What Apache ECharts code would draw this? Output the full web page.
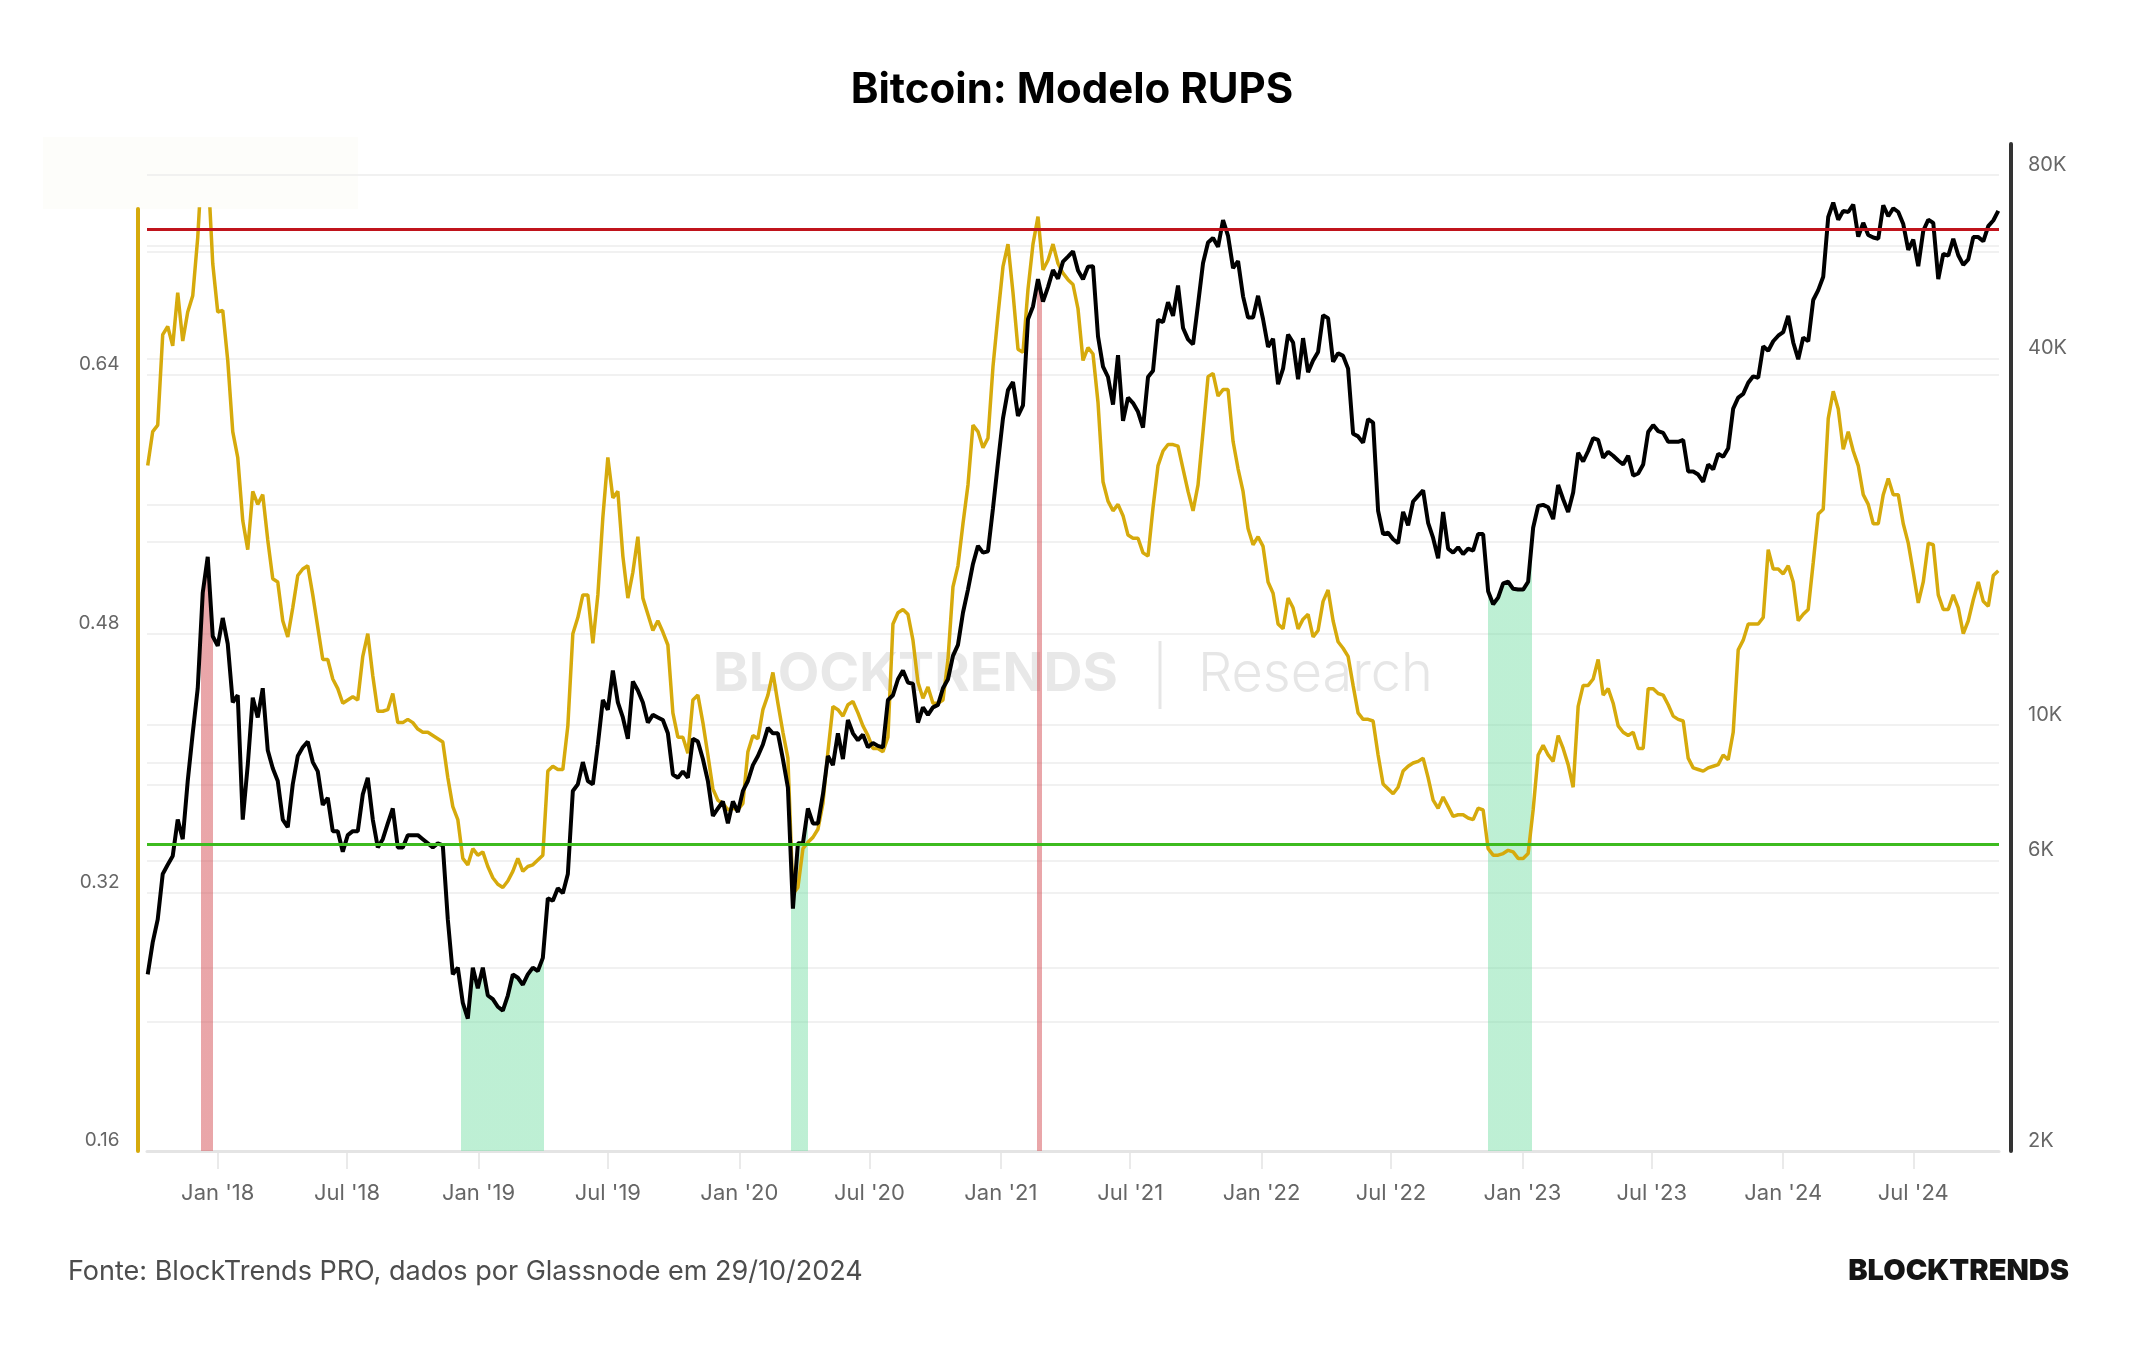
<!DOCTYPE html>
<html>
<head>
<meta charset="utf-8">
<title>Bitcoin: Modelo RUPS</title>
<script src="https://cdn.jsdelivr.net/npm/echarts@6/dist/echarts.min.js"></script>
<style>
html, body { margin: 0; padding: 0; background: #fff; }
#chart { width: 2144px; height: 1350px; }
</style>
</head>
<body>
<div id="chart"></div>
<script>
// weekly samples (mondays), first one on 2017-09-25
const firstWeek = '2017-09-25'

const rups = [
    0.584, 0.605, 0.609, 0.665, 0.670, 0.658, 0.691, 0.661, 0.679, 0.689,
    0.725, 0.780, 0.770, 0.709, 0.679, 0.680, 0.649, 0.605, 0.589, 0.550,
    0.532, 0.568, 0.560, 0.566, 0.538, 0.514, 0.512, 0.488, 0.478, 0.496,
    0.516, 0.520, 0.522, 0.504, 0.484, 0.464, 0.464, 0.452, 0.446, 0.437,
    0.439, 0.441, 0.439, 0.466, 0.480, 0.454, 0.432, 0.432, 0.433, 0.443,
    0.425, 0.425, 0.427, 0.425, 0.421, 0.419, 0.419, 0.417, 0.415, 0.413,
    0.391, 0.373, 0.365, 0.341, 0.337, 0.347, 0.343, 0.345, 0.336, 0.329,
    0.325, 0.323, 0.327, 0.333, 0.341, 0.333, 0.336, 0.337, 0.340, 0.343,
    0.395, 0.398, 0.396, 0.396, 0.423, 0.480, 0.490, 0.504, 0.504, 0.474,
    0.504, 0.552, 0.589, 0.564, 0.568, 0.528, 0.502, 0.518, 0.540, 0.502,
    0.492, 0.482, 0.488, 0.481, 0.473, 0.431, 0.416, 0.416, 0.406, 0.439,
    0.442, 0.425, 0.405, 0.384, 0.377, 0.375, 0.371, 0.372, 0.371, 0.375,
    0.407, 0.417, 0.415, 0.433, 0.442, 0.456, 0.437, 0.419, 0.403, 0.319,
    0.323, 0.347, 0.351, 0.354, 0.359, 0.375, 0.407, 0.435, 0.433, 0.429,
    0.436, 0.438, 0.431, 0.423, 0.417, 0.409, 0.409, 0.407, 0.416, 0.486,
    0.493, 0.495, 0.492, 0.476, 0.450, 0.440, 0.447, 0.437, 0.437, 0.439,
    0.464, 0.509, 0.522, 0.548, 0.572, 0.609, 0.605, 0.595, 0.601, 0.645,
    0.677, 0.707, 0.721, 0.691, 0.656, 0.654, 0.693, 0.721, 0.738, 0.705,
    0.711, 0.721, 0.709, 0.703, 0.699, 0.696, 0.681, 0.649, 0.657, 0.653,
    0.623, 0.574, 0.562, 0.556, 0.560, 0.553, 0.541, 0.539, 0.539, 0.530,
    0.528, 0.558, 0.584, 0.593, 0.597, 0.597, 0.596, 0.582, 0.568, 0.556,
    0.572, 0.605, 0.639, 0.641, 0.627, 0.631, 0.631, 0.599, 0.582, 0.568,
    0.545, 0.535, 0.540, 0.534, 0.512, 0.505, 0.486, 0.483, 0.502, 0.496,
    0.483, 0.489, 0.492, 0.478, 0.482, 0.500, 0.507, 0.488, 0.475, 0.471,
    0.466, 0.448, 0.431, 0.427, 0.427, 0.426, 0.405, 0.387, 0.384, 0.381,
    0.385, 0.395, 0.398, 0.400, 0.401, 0.403, 0.391, 0.377, 0.372, 0.379,
    0.373, 0.367, 0.368, 0.368, 0.366, 0.365, 0.372, 0.371, 0.347, 0.343,
    0.343, 0.344, 0.346, 0.345, 0.341, 0.341, 0.344, 0.371, 0.405, 0.411,
    0.405, 0.401, 0.417, 0.409, 0.399, 0.385, 0.435, 0.448, 0.448, 0.452,
    0.464, 0.442, 0.446, 0.437, 0.423, 0.419, 0.417, 0.419, 0.409, 0.409,
    0.446, 0.446, 0.443, 0.442, 0.436, 0.429, 0.427, 0.426, 0.403, 0.397,
    0.396, 0.395, 0.397, 0.398, 0.399, 0.405, 0.402, 0.419, 0.470, 0.476,
    0.486, 0.486, 0.486, 0.490, 0.532, 0.520, 0.520, 0.517, 0.522, 0.512,
    0.488, 0.492, 0.495, 0.524, 0.554, 0.557, 0.613, 0.630, 0.619, 0.594,
    0.605, 0.593, 0.584, 0.566, 0.560, 0.548, 0.548, 0.566, 0.576, 0.566,
    0.566, 0.548, 0.536, 0.518, 0.499, 0.512, 0.536, 0.535, 0.504, 0.495,
    0.495, 0.504, 0.496, 0.480, 0.488, 0.501, 0.512, 0.500, 0.497, 0.516,
    0.519
]

const price = [
    3900, 4400, 4800, 5700, 5900, 6100, 7000, 6500, 8100, 9700,
    11500, 16500, 18900, 14000, 13500, 15000, 13600, 10900, 11200, 7000,
    8600, 11100, 10300, 11500, 9100, 8500, 8100, 7000, 6800, 8000,
    8900, 9200, 9400, 8700, 8400, 7400, 7600, 6700, 6700, 6200,
    6600, 6700, 6700, 7700, 8200, 7000, 6300, 6500, 6900, 7300,
    6300, 6300, 6600, 6600, 6600, 6500, 6400, 6300, 6400, 6350,
    4800, 3900, 4000, 3500, 3300, 4000, 3700, 4000, 3600, 3550,
    3450, 3400, 3600, 3900, 3850, 3750, 3900, 4000, 3950, 4150,
    5200, 5150, 5400, 5300, 5700, 7800, 8000, 8700, 8100, 8000,
    9300, 11000, 10600, 12300, 10900, 10300, 9500, 11800, 11400, 10900,
    10100, 10400, 10300, 10200, 9700, 8300, 8200, 8400, 8200, 9500,
    9400, 8800, 8100, 7100, 7300, 7500, 6900, 7500, 7200, 7800,
    8100, 8600, 8900, 9300, 9900, 9700, 9700, 8800, 7900, 5000,
    6400, 6400, 7300, 6900, 6900, 7700, 8900, 8600, 9700, 8800,
    10200, 9700, 9450, 9650, 9200, 9350, 9250, 9200, 11000, 11200,
    11900, 12300, 11750, 11700, 10100, 10700, 10400, 10700, 10800, 11500,
    11900, 13000, 13550, 15300, 16700, 18400, 19700, 19200, 19300, 22700,
    27000, 31900, 35500, 36600, 32200, 33500, 46400, 48700, 54000, 49600,
    52400, 55900, 54100, 57700, 58800, 60000, 55800, 54000, 56600, 56700,
    43500, 38800, 37300, 33600, 40500, 31600, 34500, 33800, 32700, 30800,
    37300, 38200, 46300, 45900, 49500, 47000, 52700, 44900, 43000, 42200,
    49100, 57400, 62000, 63100, 61000, 67500, 63600, 56300, 57800, 50600,
    46700, 46700, 50700, 46400, 41800, 43100, 36300, 38500, 43800, 42500,
    37000, 43200, 38000, 39700, 41000, 47100, 46600, 39500, 40800, 40400,
    38500, 30100, 29800, 29100, 31800, 31400, 22500, 20600, 20700, 20200,
    19900, 22400, 21300, 23300, 23800, 24300, 21500, 20300, 18800, 22400,
    19500, 19200, 19600, 19100, 19500, 19350, 20600, 20600, 16600, 15800,
    16200, 17100, 17200, 16750, 16700, 16700, 17200, 21100, 22900, 23000,
    22800, 21800, 24800, 23500, 22400, 24100, 28000, 27100, 28200, 29600,
    29400, 27500, 28100, 27700, 27200, 26800, 27700, 25700, 25900, 26800,
    30300, 31100, 30400, 30200, 29200, 29200, 29200, 29400, 26100, 26100,
    25800, 25100, 26800, 26300, 27900, 27600, 28500, 33100, 34500, 35000,
    36500, 37400, 37200, 41900, 41200, 42700, 43600, 44200, 47000, 42500,
    39900, 43300, 42700, 49900, 51800, 54500, 68300, 72100, 67600, 69900,
    69600, 71600, 63400, 66800, 63800, 63200, 62900, 71400, 68500, 70600,
    69600, 66500, 60300, 62700, 56700, 64800, 67600, 66800, 54000, 59400,
    59000, 62900, 59100, 57000, 58200, 63300, 63300, 62300, 66000, 67400,
    69900
]

const redLevel = 0.731
const greenLevel = 0.351
const redZones = [['2017-12-08', '2017-12-25'], ['2021-02-21', '2021-02-27']]
const greenZones = [['2018-12-08', '2019-04-03'], ['2020-03-14', '2020-04-06'], ['2022-11-14', '2023-01-14']]

const leftLabels = [0.16, 0.32, 0.48, 0.64]
const leftGridLines = [0.16, 0.24, 0.32, 0.40, 0.48, 0.56, 0.64, 0.72]
const rightLabels = [2000, 6000, 10000, 40000, 80000]
const rightGridLines = [2000, 4000, 6000, 8000, 10000, 20000, 40000, 60000, 80000]
const xLabelDates = ['2018-01-01', '2018-07-01', '2019-01-01', '2019-07-01', '2020-01-01', '2020-07-01',
    '2021-01-01', '2021-07-01', '2022-01-01', '2022-07-01', '2023-01-01', '2023-07-01', '2024-01-01', '2024-07-01']

const DAY = 86400000
const t0 = Date.parse(firstWeek)
const dates = rups.map(function(v, i) { return t0 + i * 7 * DAY })
const xMin = Date.parse('2017-09-24')
const xMax = Date.parse('2024-10-29')
const xTicks = xLabelDates.map(function(s) { return Date.parse(s) })
const font = 'Inter'

let myChart = echarts.init(document.getElementById('chart'))

let zonePieces = []
redZones.forEach(function(z) {
    zonePieces.push({ gte: Date.parse(z[0]), lte: Date.parse(z[1]), color: 'rgba(212, 78, 84, 0.5)' })
})
greenZones.forEach(function(z) {
    zonePieces.push({ gte: Date.parse(z[0]), lte: Date.parse(z[1]), color: 'rgba(110, 220, 160, 0.45)' })
})

let option = {
    animation: false,
    backgroundColor: '#fff',
    title: {
        text: 'Bitcoin: Modelo RUPS',
        left: 'center',
        top: 64,
        textStyle: { fontFamily: font, fontWeight: 'bold', fontSize: 42, color: '#000' }
    },
    graphic: [
        { type: 'rect', z: 0, shape: { x: 43, y: 137, width: 315, height: 72 }, style: { fill: '#fdfdfa' } },
        { type: 'text', z: 0, x: 713, y: 675, style: { text: 'BLOCKTRENDS', font: 'bold 54px Inter', fill: '#e8e8e8', verticalAlign: 'middle' } },
        { type: 'line', z: 0, shape: { x1: 1160, y1: 641, x2: 1160, y2: 709 }, style: { stroke: '#e6e6e6', lineWidth: 3 } },
        { type: 'text', z: 0, x: 1198, y: 675, style: { text: 'Research', font: '300 54px Inter', fill: '#e6e6e6', verticalAlign: 'middle' } },
        { type: 'text', x: 68, y: 1272, style: { text: 'Fonte: BlockTrends PRO, dados por Glassnode em 29/10/2024', font: '27px Inter', fill: '#4d4d4d', verticalAlign: 'middle' } },
        { type: 'text', x: 2069, y: 1271, style: { text: 'BLOCKTRENDS', font: '900 29px Inter', fill: '#151515', align: 'right', verticalAlign: 'middle' } }
    ],
    grid: [
        { left: 147, right: 145, top: 209, bottom: 199 },
        { left: 147, right: 145, top: 144, bottom: 199 }
    ],
    visualMap: {
        type: 'piecewise',
        show: false,
        dimension: 0,
        seriesIndex: 0,
        pieces: zonePieces,
        outOfRange: { color: 'rgba(255, 255, 255, 0)' }
    },
    xAxis: [
        {
            type: 'value', gridIndex: 0, min: xMin, max: xMax,
            axisLine: { lineStyle: { color: '#e4e4e4', width: 3 } },
            axisTick: { show: true, length: 18, customValues: xTicks, lineStyle: { color: '#e4e4e4', width: 1.5 } },
            axisLabel: {
                customValues: xTicks,
                margin: 31, fontSize: 22, color: '#666', fontFamily: font,
                formatter: function(v) {
                    let d = new Date(v)
                    return (d.getUTCMonth() == 0 ? 'Jan' : 'Jul') + " '" + String(d.getUTCFullYear()).slice(2)
                }
            },
            splitLine: { show: false }
        },
        { type: 'value', gridIndex: 1, min: xMin, max: xMax, show: false, splitLine: { show: false } }
    ],
    yAxis: [
        {
            type: 'value', gridIndex: 0, position: 'left', offset: 9.5,
            min: 0.16, max: 0.7427,
            axisLine: { show: true, lineStyle: { color: '#d6aa0c', width: 4 } },
            axisTick: { show: false, customValues: leftGridLines },
            axisLabel: {
                customValues: leftLabels,
                formatter: function(v) { return v.toFixed(2) },
                margin: 18, fontSize: 19, color: '#666', fontFamily: font,
                verticalAlign: 'bottom', lineHeight: 21
            },
            splitLine: { show: true, lineStyle: { color: '#ececec', width: 1.5 } }
        },
        {
            type: 'log', gridIndex: 1, position: 'right', offset: 12, logBase: 10,
            min: 2000, max: 90000,
            axisLine: { show: true, lineStyle: { color: '#333', width: 4 } },
            axisTick: { show: false, customValues: rightGridLines },
            axisLabel: {
                customValues: rightLabels,
                formatter: function(v) { return Math.round(v / 1000) + 'K' },
                margin: 17, fontSize: 20, color: '#666', fontFamily: font,
                verticalAlign: 'bottom', lineHeight: 21
            },
            splitLine: { show: true, lineStyle: { color: '#ececec', width: 1.5 } }
        }
    ],
    series: [
        {
            name: 'zonas',
            type: 'line',
            xAxisIndex: 1, yAxisIndex: 1,
            data: dates.map(function(d, i) { return [d, price[i]] }),
            showSymbol: false,
            silent: true,
            lineStyle: { width: 0 },
            areaStyle: { origin: 'start', opacity: 1 },
            z: 1
        },
        {
            name: 'RUPS',
            type: 'line',
            xAxisIndex: 0, yAxisIndex: 0,
            data: dates.map(function(d, i) { return [d, rups[i]] }),
            showSymbol: false,
            lineStyle: { color: '#d6aa0c', width: 3.5 },
            itemStyle: { color: '#d6aa0c' },
            z: 2,
            markLine: {
                silent: true,
                symbol: 'none',
                label: { show: false },
                data: [
                    { yAxis: redLevel, lineStyle: { color: '#c0141c', width: 3, type: 'solid' } },
                    { yAxis: greenLevel, lineStyle: { color: '#3dbb1f', width: 3, type: 'solid' } }
                ]
            }
        },
        {
            name: 'Preço',
            type: 'line',
            xAxisIndex: 1, yAxisIndex: 1,
            data: dates.map(function(d, i) { return [d, price[i]] }),
            showSymbol: false,
            lineStyle: { color: '#000', width: 4 },
            itemStyle: { color: '#000' },
            z: 3
        }
    ]
}

myChart.setOption(option)
</script>
</body>
</html>
